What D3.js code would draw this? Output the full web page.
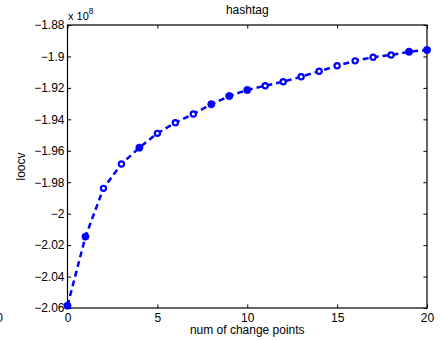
<!DOCTYPE html>
<html>
<head>
<meta charset="utf-8">
<script src="https://cdn.jsdelivr.net/npm/d3@7"></script>
<style>
  html, body { margin: 0; padding: 0; background: #fff; }
  svg { display: block; }
  text { font-family: "Liberation Sans", Arial, Helvetica, sans-serif; fill: #000; }
</style>
</head>
<body>
<svg id="chart" width="443" height="340"></svg>
<script>
// ---- data (values in units of 1e8) ----
const changePoints = [0,1,2,3,4,5,6,7,8,9,10,11,12,13,14,15,16,17,18,19,20];
const loocv = [-2.0585,-2.0146,-1.9839,-1.9684,-1.9580,-1.9489,-1.9421,-1.9366,-1.9304,-1.9252,
               -1.9213,-1.9186,-1.9161,-1.9129,-1.9094,-1.9059,-1.9028,-1.9005,-1.8991,-1.8970,-1.8959];
const filledMarkers = [0,1,4,8,9,10,19,20];
const xTicks = [0,5,10,15,20];
const yTicks = [-2.06,-2.04,-2.02,-2,-1.98,-1.96,-1.94,-1.92,-1.9,-1.88];
const titleText = "hashtag";
const xLabel = "num of change points";
const yLabel = "loocv";

// ---- layout ----
const svg = d3.select("#chart");
const L = 67.5, R = 427, T = 25, B = 308;
const x = d3.scaleLinear().domain([0, 20]).range([L, R]);
const y = d3.scaleLinear().domain([-2.06, -1.88]).range([B, T]);
const fmt = d3.format("~g");
const tk = 3.6;

// axes
const gx = svg.append("g").attr("transform", `translate(0,${B})`)
  .call(d3.axisBottom(x).tickValues(xTicks).tickFormat(fmt).tickSizeInner(-tk).tickSizeOuter(0).tickPadding(5.5));
const gxt = svg.append("g").attr("transform", `translate(0,${T})`)
  .call(d3.axisTop(x).tickValues(xTicks).tickFormat("").tickSizeInner(-tk).tickSizeOuter(0));
const gy = svg.append("g").attr("transform", `translate(${L},0)`)
  .call(d3.axisLeft(y).tickValues(yTicks).tickFormat(fmt).tickSizeInner(-tk).tickSizeOuter(0).tickPadding(3));
const gyr = svg.append("g").attr("transform", `translate(${R},0)`)
  .call(d3.axisRight(y).tickValues(yTicks).tickFormat("").tickSizeInner(-tk).tickSizeOuter(0));

[gx, gxt, gy, gyr].forEach(g => {
  g.select(".domain").remove();
  g.selectAll("line").attr("stroke", "#000").attr("stroke-width", 1);
  g.selectAll("text").style("font-size", "12px").attr("fill", "#000")
    .style("font-family", "'Liberation Sans', Arial, Helvetica, sans-serif");
});

// box
svg.append("rect").attr("x", L).attr("y", T).attr("width", R - L).attr("height", B - T)
  .attr("fill", "none").attr("stroke", "#000").attr("stroke-width", 1.2);

// data line
const line = d3.line().x((d, i) => x(changePoints[i])).y(d => y(d));
svg.append("path").datum(loocv).attr("d", line)
  .attr("fill", "none").attr("stroke", "#0000ff").attr("stroke-width", 2.5)
  .attr("stroke-dasharray", "6,4");

// markers
svg.append("g").selectAll("circle").data(loocv).join("circle")
  .attr("cx", (d, i) => x(changePoints[i]))
  .attr("cy", d => y(d))
  .attr("r", (d, i) => filledMarkers.includes(i) ? 3.7 : 2.6)
  .attr("fill", (d, i) => filledMarkers.includes(i) ? "#0000ff" : "#fff")
  .attr("stroke", "#0000ff")
  .attr("stroke-width", (d, i) => filledMarkers.includes(i) ? 0.5 : 2.2);

// texts
svg.append("text").attr("x", (L + R) / 2).attr("y", 14).attr("text-anchor", "middle")
  .style("font-size", "12px").text(titleText);
svg.append("text").attr("x", (L + R) / 2).attr("y", 334).attr("text-anchor", "middle")
  .style("font-size", "12px").text(xLabel);
svg.append("text").attr("transform", `translate(25,${(T + B) / 2}) rotate(-90)`)
  .attr("text-anchor", "middle").style("font-size", "12px").text(yLabel);

// exponent multiplier
const mult = svg.append("text").attr("x", 68).attr("y", 20).style("font-size", "11px");
mult.append("tspan").text("x 10");
mult.append("tspan").attr("dy", -6).style("font-size", "8.5px").text("8");

// clipped stray label at far left
svg.append("text").attr("x", 3).attr("y", 322).attr("text-anchor", "end")
  .style("font-size", "12px").text("0");
</script>
</body>
</html>
